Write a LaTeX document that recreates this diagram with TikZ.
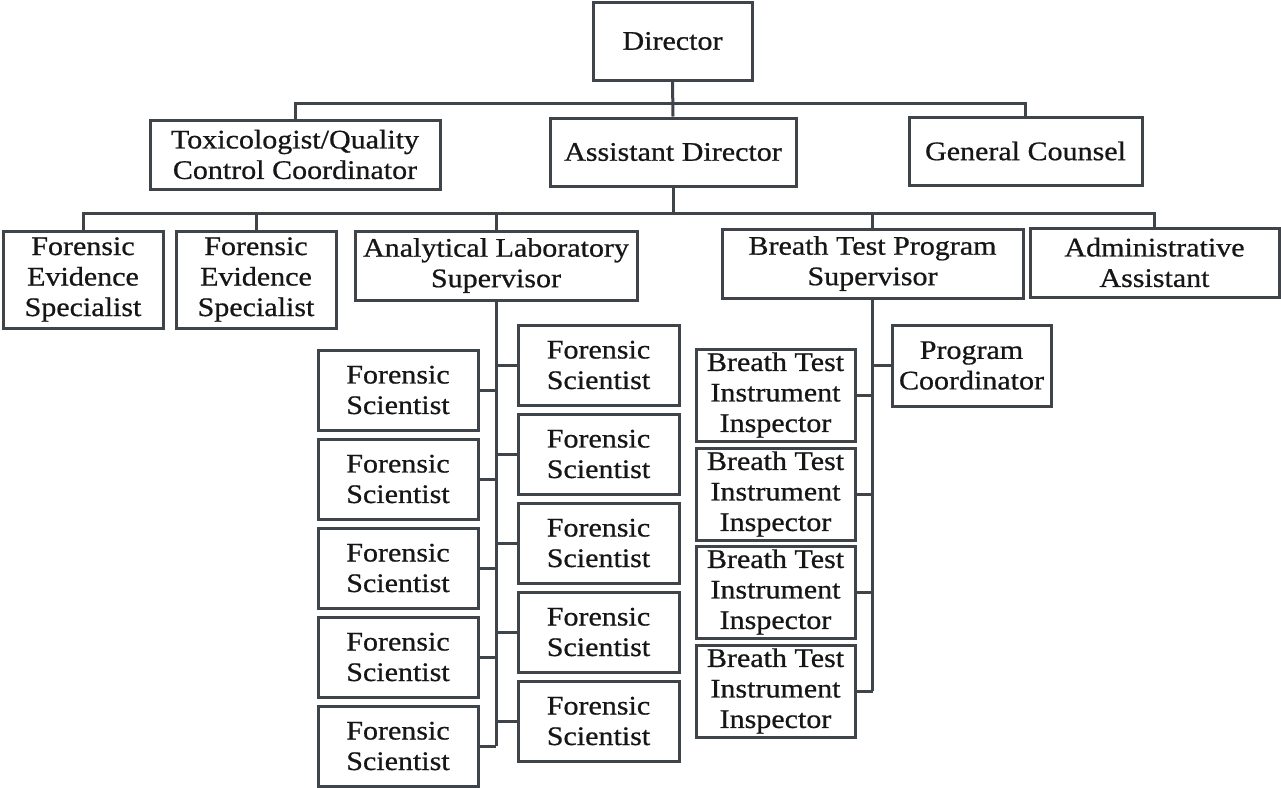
\documentclass[tikz,border=0pt]{standalone}
\usepackage{fontspec}
\setmainfont{Liberation Serif}[FakeStretch=1.12,FakeBold=0.7]
\definecolor{ln}{RGB}{62,68,74}
\definecolor{tx}{RGB}{22,22,22}
\begin{document}
\begin{tikzpicture}[x=1pt,y=-1pt,
  box/.style={draw=ln, line width=3pt, text=tx, align=center, inner sep=0pt,
    font=\fontsize{26.8}{30.5}\selectfont},
  fsbox/.style={box, minimum width=160pt, minimum height=80pt},
  btbox/.style={box, minimum width=159pt, minimum height=92pt},
  link/.style={draw=ln, line width=3pt}]
\useasboundingbox (0,0) rectangle (1281,787);
\fill[white] (0,0) rectangle (1281,787);

% top levels
\node[box, minimum width=159pt, minimum height=78pt] (dir) at (672.5,41) {Director};
\node[box, minimum width=290pt, minimum height=69pt] (tox) at (295,154.5) {Toxicologist/Quality\\Control Coordinator};
\node[box, minimum width=246pt, minimum height=68pt] (ad) at (673,152) {Assistant Director};
\node[box, minimum width=233pt, minimum height=68pt] (gc) at (1025.5,151) {General Counsel};

\node[box, minimum width=160pt, minimum height=97pt] (fes1) at (83,279.5) {Forensic\\Evidence\\Specialist};
\node[box, minimum width=160pt, minimum height=97pt] (fes2) at (256,279.5) {Forensic\\Evidence\\Specialist};
\node[box, minimum width=282pt, minimum height=69pt] (als) at (496,265.5) {Analytical Laboratory\\Supervisor};
\node[box, minimum width=301pt, minimum height=69pt] (btps) at (872.5,263.5) {Breath Test Program\\Supervisor};
\node[box, minimum width=249pt, minimum height=69pt] (aa) at (1154.5,262.5) {Administrative\\Assistant};

% forensic scientists
\foreach \i/\y in {1/390,2/479,3/568,4/657,5/746}
  \node[fsbox] (l\i) at (398,\y) {Forensic\\Scientist};
\foreach \i/\y in {1/365,2/454,3/543,4/632,5/721}
  \node[fsbox, minimum width=161pt] (r\i) at (598.5,\y) {Forensic\\Scientist};

% breath test
\foreach \i/\y in {1/395,2/494,3/592,4/691}
  \node[btbox] (bt\i) at (775.5,\y) {Breath Test\\Instrument\\Inspector};
\node[box, minimum width=159pt, minimum height=81pt] (pc) at (971.5,365.5) {Program\\Coordinator};

% connectors level 1
\coordinate (b1) at (0,103);
\draw[link] (dir.south) -- (ad.north);
\draw[link] (tox.north) -- (tox.north |- b1) -- (gc.north |- b1) -- (gc.north);

% connectors level 2
\coordinate (b2) at (0,213);
\draw[link] (ad.south) -- (ad.south |- b2);
\draw[link] (fes1.north) -- (fes1.north |- b2) -- (aa.north |- b2) -- (aa.north);
\draw[link] (fes2.north) -- (fes2.north |- b2);
\draw[link] (als.north) -- (als.north |- b2);
\draw[link] (btps.north) -- (btps.north |- b2);

% analytical spine
\draw[link] (als.south) -- (als.south |- l5.east);
\foreach \i in {1,...,5} {
  \draw[link] (l\i.east) -- (l\i.east -| als.south);
  \draw[link] (r\i.west) -- (r\i.west -| als.south);
}

% breath test spine
\draw[link] (btps.south) -- (btps.south |- bt4.east);
\foreach \i in {1,...,4}
  \draw[link] (bt\i.east) -- (bt\i.east -| btps.south);
\draw[link] (pc.west) -- (pc.west -| btps.south);
\end{tikzpicture}
\end{document}
